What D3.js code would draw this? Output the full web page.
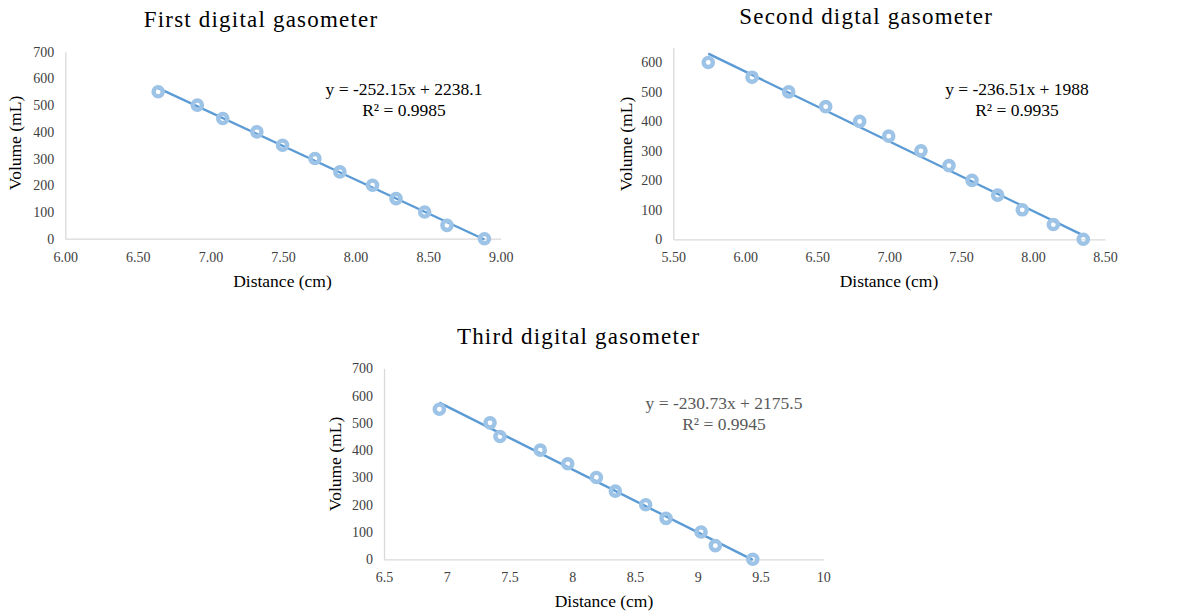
<!DOCTYPE html>
<html>
<head>
<meta charset="utf-8">
<script src="https://cdn.jsdelivr.net/npm/d3@7"></script>
<style>
  body { margin: 0; background: #fff; }
  svg text { font-family: "Liberation Serif", "Times New Roman", serif; }
  .domain { stroke: #d9d9d9; stroke-width: 1.3px; }
</style>
</head>
<body>
<svg id="chart" width="1194" height="616"></svg>
<script>
// readings from the three calibration plots
const titles = ["First digital gasometer", "Second digtal gasometer", "Third digital gasometer"];

const dist1 = [6.64, 6.91, 7.085, 7.32, 7.497, 7.72, 7.892, 8.117, 8.279, 8.476, 8.63, 8.888];
const vol1 = [550, 500, 450, 400, 350, 300, 250, 200, 150, 100, 50, 0];

const dist2 = [5.743, 6.047, 6.302, 6.559, 6.795, 6.997, 7.221, 7.416, 7.576, 7.754, 7.925, 8.141, 8.349];
const vol2 = [600, 550, 500, 450, 400, 350, 300, 250, 200, 150, 100, 50, 0];

const dist3 = [6.941, 7.345, 7.424, 7.745, 7.964, 8.192, 8.343, 8.585, 8.747, 9.026, 9.14, 9.438];
const vol3 = [550, 500, 450, 400, 350, 300, 250, 200, 150, 100, 50, 0];

const slopes = [-252.15, -236.51, -230.73];
const intercepts = [2238.1, 1988, 2175.5];
const eqLabels = ["y = -252.15x + 2238.1", "y = -236.51x + 1988", "y = -230.73x + 2175.5"];
const r2Labels = ["R² = 0.9985", "R² = 0.9935", "R² = 0.9945"];

const xTicks1 = [6.0, 6.5, 7.0, 7.5, 8.0, 8.5, 9.0];
const xTicks2 = [5.5, 6.0, 6.5, 7.0, 7.5, 8.0, 8.5];
const xTicks3 = [6.5, 7, 7.5, 8, 8.5, 9, 9.5, 10];
const yTicks1 = [0, 100, 200, 300, 400, 500, 600, 700];
const yTicks2 = [0, 100, 200, 300, 400, 500, 600];
const yTicks3 = [0, 100, 200, 300, 400, 500, 600, 700];

const svg = d3.select("#chart");

function drawPanel(cfg) {
  const g = svg.append("g");
  const x = d3.scaleLinear().domain(cfg.xDomain).range([cfg.left, cfg.right]);
  const y = d3.scaleLinear().domain(cfg.yDomain).range([cfg.bottom, cfg.top]);

  const xAxis = g.append("g")
    .attr("transform", `translate(0,${cfg.bottom})`)
    .call(d3.axisBottom(x).tickValues(cfg.xTicks).tickSize(0).tickPadding(13).tickFormat(cfg.xFormat));
  const yAxis = g.append("g")
    .attr("transform", `translate(${cfg.left},0)`)
    .call(d3.axisLeft(y).tickValues(cfg.yTicks).tickSize(0).tickPadding(11));
  [xAxis, yAxis].forEach(a => {
    a.selectAll("text").attr("font-size", 14).attr("fill", "#404040")
      .style("font-family", "'Liberation Serif', serif");
  });

  // trendline over the data range
  const xs = d3.extent(cfg.dist);
  g.append("line")
    .attr("x1", x(xs[0])).attr("y1", y(cfg.slope * xs[0] + cfg.intercept))
    .attr("x2", x(xs[1])).attr("y2", y(cfg.slope * xs[1] + cfg.intercept))
    .attr("stroke", "#5b9bd5")
    .attr("stroke-width", 2.4);

  g.selectAll("circle")
    .data(cfg.dist.map((d, i) => [d, cfg.vol[i]]))
    .enter()
    .append("circle")
    .attr("cx", d => x(d[0]))
    .attr("cy", d => y(d[1]))
    .attr("r", 4.6)
    .attr("fill", "none")
    .attr("stroke", "#9dc3e6")
    .attr("stroke-width", 4.4);

  g.append("text")
    .attr("x", (cfg.left + cfg.right) / 2 + cfg.titleDx)
    .attr("y", cfg.titleY)
    .attr("text-anchor", "middle")
    .attr("font-size", 23)
    .attr("letter-spacing", 1.2)
    .attr("fill", "#000")
    .text(cfg.title);

  g.append("text")
    .attr("x", cfg.xLabelX)
    .attr("y", cfg.bottom + 48)
    .attr("text-anchor", "middle")
    .attr("font-size", 17.5)
    .attr("fill", "#000")
    .text("Distance (cm)");

  g.append("text")
    .attr("transform", `translate(${cfg.yLabelX},${cfg.yLabelY}) rotate(-90)`)
    .attr("text-anchor", "middle")
    .attr("font-size", 17.5)
    .attr("fill", "#000")
    .text("Volume (mL)");

  g.append("text")
    .attr("x", cfg.eqX).attr("y", cfg.eqY)
    .attr("text-anchor", "middle")
    .attr("font-size", 17.5)
    .attr("fill", cfg.eqColor)
    .text(cfg.eq);
  g.append("text")
    .attr("x", cfg.eqX).attr("y", cfg.eqY + 21)
    .attr("text-anchor", "middle")
    .attr("font-size", 17.5)
    .attr("fill", cfg.eqColor)
    .text(cfg.r2);
}

drawPanel({
  title: titles[0], dist: dist1, vol: vol1, slope: slopes[0], intercept: intercepts[0],
  eq: eqLabels[0], r2: r2Labels[0], eqColor: "#000",
  xDomain: [6, 9], yDomain: [0, 700], xTicks: xTicks1, yTicks: yTicks1, xFormat: d3.format(".2f"),
  left: 65.3, right: 500.7, top: 51.7, bottom: 238.7,
  titleDx: -22, titleY: 27, xLabelX: 282.5, yLabelX: 21, yLabelY: 143,
  eqX: 404, eqY: 95
});

drawPanel({
  title: titles[1], dist: dist2, vol: vol2, slope: slopes[1], intercept: intercepts[1],
  eq: eqLabels[1], r2: r2Labels[1], eqColor: "#000",
  xDomain: [5.5, 8.5], yDomain: [0, 650], xTicks: xTicks2, yTicks: yTicks2, xFormat: d3.format(".2f"),
  left: 673.3, right: 1105, top: 47.7, bottom: 239.3,
  titleDx: -23, titleY: 23.5, xLabelX: 889, yLabelX: 632, yLabelY: 144,
  eqX: 1017, eqY: 95
});

drawPanel({
  title: titles[2], dist: dist3, vol: vol3, slope: slopes[2], intercept: intercepts[2],
  eq: eqLabels[2], r2: r2Labels[2], eqColor: "#595959",
  xDomain: [6.5, 10], yDomain: [0, 700], xTicks: xTicks3, yTicks: yTicks3, xFormat: d3.format(""),
  left: 384, right: 823.3, top: 368.3, bottom: 559.3,
  titleDx: -25, titleY: 343.5, xLabelX: 604, yLabelX: 341, yLabelY: 464,
  eqX: 724, eqY: 408.5
});
</script>
</body>
</html>
